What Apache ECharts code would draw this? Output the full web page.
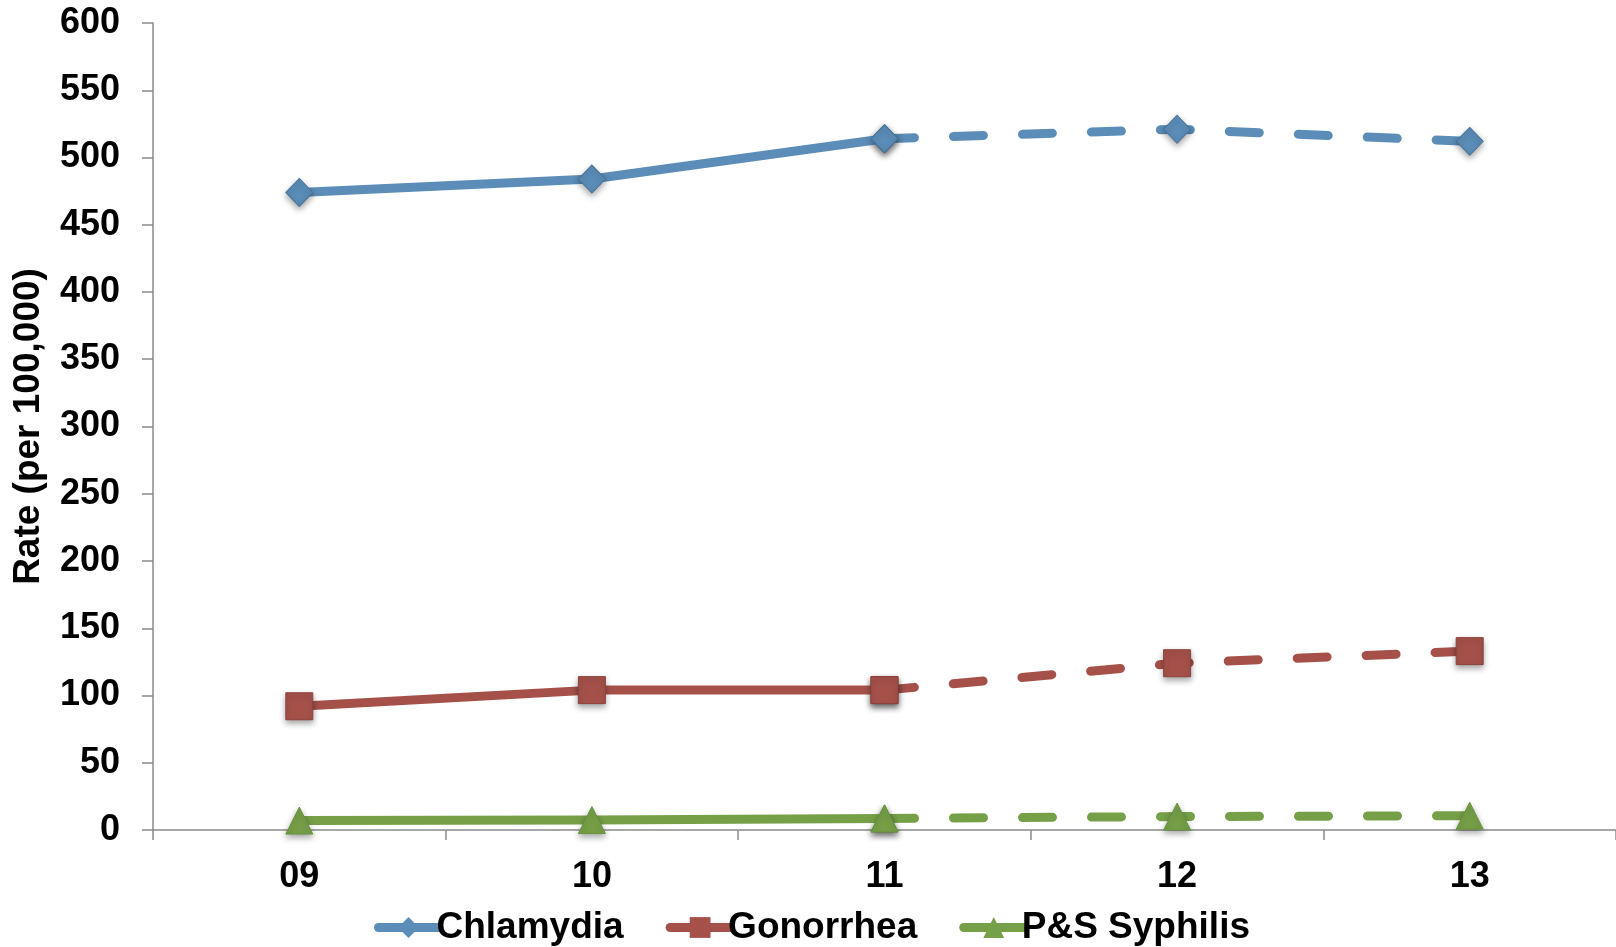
<!DOCTYPE html>
<html>
<head>
<meta charset="utf-8">
<script src="https://cdn.jsdelivr.net/npm/echarts@6/dist/echarts.min.js"></script>
<style>
html,body{margin:0;padding:0;background:#fff;}
#chart{width:1616px;height:947px;}
</style>
</head>
<body>
<div id="chart"></div>
<script>
const categories = ['09', '10', '11', '12', '13'];
const chlamydia = [474, 484, 514, 521, 512];
const gonorrhea = [92, 104, 104, 124, 133];
const syphilis = [7.0, 7.4, 8.6, 10.0, 10.6];
const yTicks = [0, 50, 100, 150, 200, 250, 300, 350, 400, 450, 500, 550, 600];
const solidUntil = 2; // index of '11': solid before, dashed after

const FONT = '"Liberation Sans", Arial, sans-serif';

function solidPart(arr) { return arr.map((v, i) => i <= solidUntil ? v : null); }
function dashedPart(arr) { return arr.map((v, i) => i >= solidUntil ? v : null); }

function makeSeries(name, data, color, border, symbol, size) {
  const itemStyle = {
    color: color, borderColor: border, borderWidth: 1,
    shadowBlur: 6, shadowColor: 'rgba(0,0,0,0.35)', shadowOffsetY: 3
  };
  return [
    {
      name: name, type: 'line', data: solidPart(data),
      symbol: symbol, symbolSize: size, showAllSymbol: true,
      lineStyle: { color: color, width: 9, cap: 'round', join: 'round' },
      itemStyle: itemStyle, connectNulls: false, animation: false, z: 3
    },
    {
      name: name, type: 'line', data: dashedPart(data),
      symbol: symbol, symbolSize: size, showAllSymbol: true,
      lineStyle: { color: color, width: 9, type: [30, 39], cap: 'round', join: 'round' },
      itemStyle: itemStyle, connectNulls: false, animation: false, z: 2
    }
  ];
}

const chart = echarts.init(document.getElementById('chart'), null, { renderer: 'canvas' });
chart.setOption({
  animation: false,
  backgroundColor: '#ffffff',
  textStyle: { fontFamily: FONT },
  grid: { left: 153, width: 1468, top: 23, bottom: 117, containLabel: false },
  legend: {
    left: 369, top: 904,
    itemWidth: 60, itemHeight: 26, itemGap: 42,
    lineStyle: { width: 9, cap: 'round' },
    itemStyle: { shadowBlur: 0, shadowOffsetY: 0, borderWidth: 0 },
    textStyle: { fontFamily: FONT, fontSize: 37, fontWeight: 'bold', color: '#000', padding: [0, 0, 0, -7] },
    data: ['Chlamydia', 'Gonorrhea', 'P&S Syphilis']
  },
  xAxis: {
    type: 'category', data: categories, boundaryGap: true,
    axisLine: { lineStyle: { color: '#8a8a8a', width: 1.5 } },
    axisTick: { show: true, inside: false, length: 10, lineStyle: { color: '#8a8a8a', width: 1.5 } },
    axisLabel: { margin: 29, fontFamily: FONT, fontSize: 36, fontWeight: 'bold', color: '#000' },
    splitLine: { show: false }
  },
  yAxis: {
    type: 'value', min: yTicks[0], max: yTicks[yTicks.length - 1], interval: 50,
    name: 'Rate (per 100,000)', nameLocation: 'middle', nameGap: 106,
    nameTextStyle: { fontFamily: FONT, fontSize: 37, fontWeight: 'bold', color: '#000' },
    axisLine: { show: true, lineStyle: { color: '#8a8a8a', width: 1.5 } },
    axisTick: { show: true, inside: false, length: 11, lineStyle: { color: '#8a8a8a', width: 1.5 } },
    axisLabel: { margin: 33, fontFamily: FONT, fontSize: 36, fontWeight: 'bold', color: '#000' },
    splitLine: { show: false }
  },
  series: [].concat(
    makeSeries('Chlamydia', chlamydia, '#5B8DB8', '#4A7499', 'diamond', [27, 28]),
    makeSeries('Gonorrhea', gonorrhea, '#A5514A', '#8C423C', 'rect', [27, 27]),
    makeSeries('P&S Syphilis', syphilis, '#76A047', '#6A9440', 'triangle', [27, 27])
  )
});
</script>
</body>
</html>
